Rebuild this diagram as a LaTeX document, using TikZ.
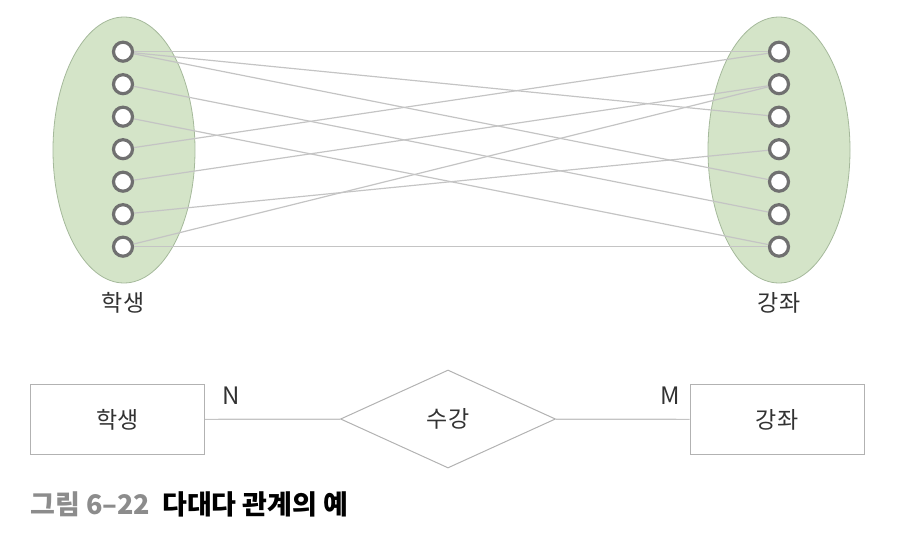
\documentclass[tikz,border=0pt]{standalone}
\usepackage{fontspec}
\setmainfont{Noto Sans CJK KR}
\usetikzlibrary{shapes.geometric}

\definecolor{setgreen}{RGB}{212,228,200}
\definecolor{setrim}{RGB}{165,185,155}
\definecolor{ringgray}{RGB}{112,112,112}
\definecolor{linkgray}{RGB}{196,196,196}
\definecolor{boxgray}{RGB}{178,178,178}
\definecolor{textgray}{RGB}{50,50,50}
\definecolor{capgray}{RGB}{140,140,140}

\begin{document}
\begin{tikzpicture}[x=1pt,y=-1pt,
      elem/.style={circle,draw=ringgray,line width=3.2pt,fill=white,
        minimum size=19pt,inner sep=0pt},
      link/.style={draw=linkgray,line width=1.2pt},
      entity/.style={rectangle,draw=boxgray,line width=1pt,
        minimum width=174pt,minimum height=70pt,font=\fontsize{23}{26}\selectfont,
        text=textgray},
      relation/.style={diamond,draw=boxgray,line width=1pt,
        minimum width=215pt,minimum height=98pt,inner sep=0pt,
        font=\fontsize{23}{26}\selectfont,text=textgray},
      setlabel/.style={font=\fontsize{23}{26}\selectfont,text=textgray}]
      \useasboundingbox (0,0) rectangle (910,556);

      \filldraw[fill=setgreen,draw=setrim,line width=0.8pt]
        (124,150) ellipse [x radius=71,y radius=133];
      \filldraw[fill=setgreen,draw=setrim,line width=0.8pt]
        (779,150) ellipse [x radius=71,y radius=133];

      \node[elem] (s1) at (123, 51.7) {};
      \node[elem] (s2) at (123, 84.2) {};
      \node[elem] (s3) at (123,116.7) {};
      \node[elem] (s4) at (123,149.2) {};
      \node[elem] (s5) at (123,181.7) {};
      \node[elem] (s6) at (123,214.2) {};
      \node[elem] (s7) at (123,246.7) {};

      \node[elem] (c1) at (779, 51.7) {};
      \node[elem] (c2) at (779, 84.2) {};
      \node[elem] (c3) at (779,116.7) {};
      \node[elem] (c4) at (779,149.2) {};
      \node[elem] (c5) at (779,181.7) {};
      \node[elem] (c6) at (779,214.2) {};
      \node[elem] (c7) at (779,246.7) {};

      \node[setlabel] (slab) at (123,303) {학생};
      \node[setlabel] (clab) at (779,303) {강좌};

      \path[link]
      (s1) edge (c1)
      (s1) edge (c3)
      (s1) edge (c5)
      (s2) edge (c6)
      (s3) edge (c7)
      (s4) edge (c1)
      (s5) edge (c2)
      (s6) edge (c4)
      (s7) edge (c2)
      (s7) edge (c7)
      ;

      \node[entity] (sbox) at (117.5,419.5) {학생};
      \node[relation] (rel) at (448,419) {수강};
      \node[entity] (cbox) at (777,419.5) {강좌};

      \node[font=\fontsize{24}{26}\selectfont,text=textgray] (n) at (231,396) {N};
      \node[font=\fontsize{24}{26}\selectfont,text=textgray] (m) at (670,396) {M};

      \path[link]
      (sbox) edge (rel)
      (rel) edge (cbox)
      ;

      \node[anchor=west,inner sep=0pt,font=\fontsize{27}{30}\selectfont\bfseries]
        (cap) at (30,504) {\textcolor{capgray}{그림 6–22}\hspace{12pt}다대다 관계의 예};
      \end{tikzpicture}
\end{document}
